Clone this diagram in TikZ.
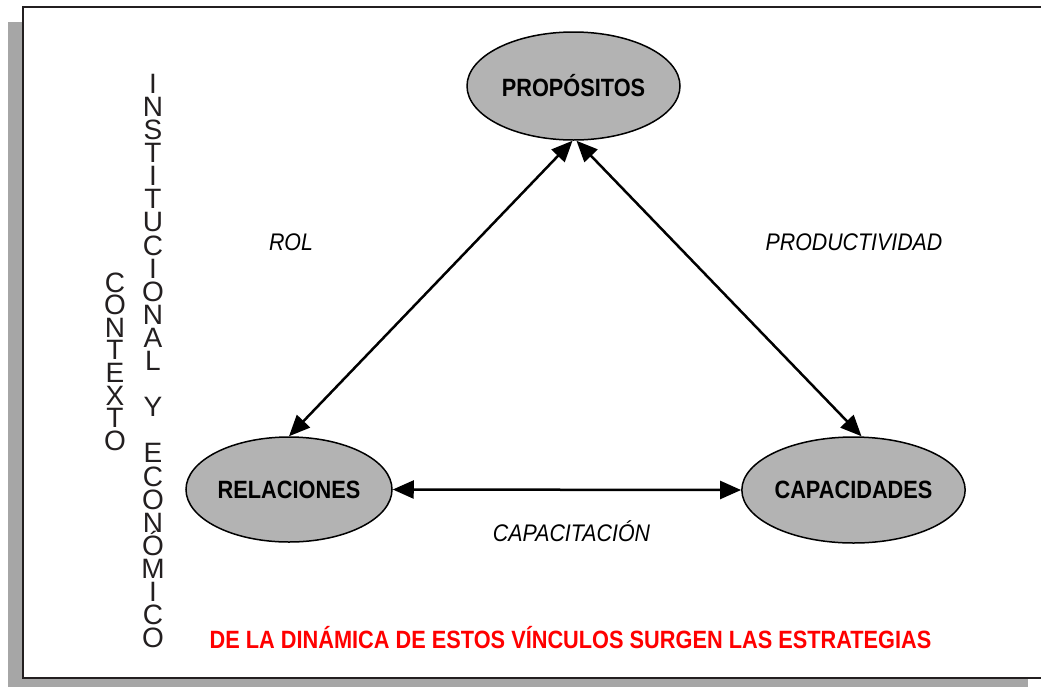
\documentclass[tikz,border=0pt]{standalone}
\usepackage{fontspec}
\setmainfont{Liberation Sans}
\newfontfamily\narrowfont[FakeStretch=0.87]{Liberation Sans}
\newfontfamily\labelfont[FakeStretch=0.89]{Liberation Sans}
\usetikzlibrary{arrows.meta,shapes.geometric}
\definecolor{framecol}{HTML}{231F20}
\definecolor{shadowcol}{HTML}{A6A6A6}
\definecolor{ellfill}{HTML}{B3B3B3}
\begin{document}
\begin{tikzpicture}[x=1pt,y=-1pt,
  concept/.style={ellipse, draw=black, line width=1.5pt, fill=ellfill, inner sep=0pt,
    font=\narrowfont\fontsize{25}{28}\selectfont\bfseries},
  link/.style={{Triangle[length=21pt,width=18pt]}-{Triangle[length=21pt,width=18pt]}, line width=2.5pt, black},
  lbl/.style={font=\labelfont\fontsize{24}{28}\selectfont\itshape, text=black, inner sep=0pt},
  vletter/.style={font=\fontsize{28}{30}\selectfont, text=framecol, anchor=base, inner sep=0pt,
    text height=20pt, text depth=0pt},
  note/.style={font=\narrowfont\fontsize{25}{28}\selectfont\bfseries, text=red, inner sep=0pt}]
\useasboundingbox (0,0) rectangle (1041,686);
% frame with shadow
\fill[shadowcol] (8,22) rectangle (1028,700);
\draw[framecol, line width=2.5pt, fill=white] (23,7) rectangle (1045,678);
% concept nodes
\node[concept, minimum width=213pt, minimum height=108pt] (prop) at (573.5,86) {PROPÓSITOS};
\node[concept, minimum width=206pt, minimum height=105pt] (rel) at (289,489.5) {RELACIONES};
\node[concept, minimum width=207pt, minimum height=106pt] (cap) at (853.5,490) {CAPACIDADES};
% connectors
\draw[link] ([xshift=-1pt]prop.south) -- (rel.north);
\draw[link] ([xshift=3pt]prop.south) -- ([xshift=8pt]cap.north);
\draw[link] (rel.east) -- (cap.west);
% labels
\node[lbl] (rol) at (291,242) {ROL};
\node[lbl] (prod) at (854,242) {PRODUCTIVIDAD};
\node[lbl] (capac) at (571.5,531.5) {CAPACITACIÓN};
\node[note] (strat) at (570.5,638) {DE LA DINÁMICA DE ESTOS VÍNCULOS SURGEN LAS ESTRATEGIAS};
% vertical text, column 1
\foreach \l/\k in {C/0,O/1,N/2,T/3,E/4,X/5,T/6,O/7}
  \node[vletter] (ca\k) at (115,292+22.6*\k) {\l};
% vertical text, column 2
\foreach \l/\k in {I/0,N/1,S/2,T/3,I/4,T/5,U/6,C/7,I/8,O/9,N/10,A/11,L/12,Y/14,E/16,C/17,O/18,N/19,Ó/20,M/21,I/22,C/23,O/24}
  \node[vletter] (cb\k) at (153,93.3+23.1*\k) {\l};
\end{tikzpicture}
\end{document}
